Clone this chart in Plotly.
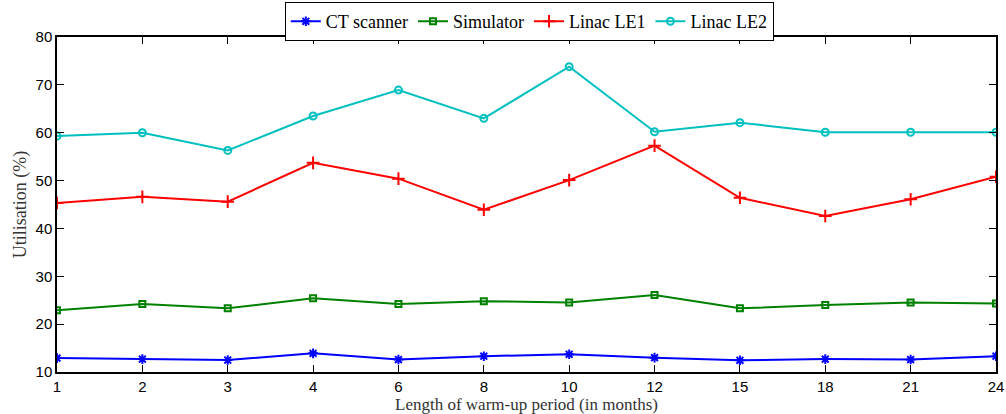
import plotly.graph_objects as go

# Warm-up period lengths (months), plotted as evenly spaced categories
months = ["1", "2", "3", "4", "6", "8", "10", "12", "15", "18", "21", "24"]

# Utilisation (%) per resource
ct_scanner = [12.9, 12.7, 12.5, 13.9, 12.6, 13.3, 13.7, 13.0, 12.45, 12.7, 12.6, 13.3]
simulator = [22.9, 24.2, 23.3, 25.4, 24.2, 24.8, 24.5, 26.1, 23.3, 24.0, 24.5, 24.3]
linac_le1 = [45.3, 46.6, 45.6, 53.7, 50.4, 43.9, 50.1, 57.3, 46.4, 42.6, 46.1, 50.8]
linac_le2 = [59.3, 60.0, 56.3, 63.5, 68.9, 63.0, 73.8, 60.2, 62.1, 60.1, 60.1, 60.1]

series = [
    ("CT scanner", ct_scanner, "#0000ff", "asterisk-open", 8),
    ("Simulator", simulator, "#008000", "square-open", 6),
    ("Linac LE1", linac_le1, "#ff0000", "cross-thin-open", 9),
    ("Linac LE2", linac_le2, "#00bfbf", "circle-open", 7),
]

fig = go.Figure()
for name, vals, color, symbol, size in series:
    fig.add_trace(go.Scatter(
        x=months, y=vals, name=name, mode="lines+markers",
        line=dict(color=color, width=2),
        marker=dict(symbol=symbol, size=size, color=color,
                    line=dict(color=color, width=2)),
    ))

serif = "Liberation Serif, DejaVu Serif, serif"

axis_common = dict(
    showline=True, linecolor="black", linewidth=1.5, mirror="ticks",
    ticks="inside", ticklen=7, tickcolor="black", tickwidth=1,
    showgrid=False, zeroline=False,
    tickfont=dict(family="Liberation Sans, Arial, sans-serif", size=15, color="black"),
)

fig.update_layout(
    width=1006, height=414,
    margin=dict(l=57, r=10, t=37, b=42, autoexpand=False),
    paper_bgcolor="white", plot_bgcolor="white",
    showlegend=True,
    legend=dict(
        orientation="h", x=0.503, xanchor="center",
        yref="container", y=0.995, yanchor="top",
        bordercolor="black", borderwidth=1, bgcolor="white",
        font=dict(family=serif, size=18, color="black"),
        itemwidth=30, tracegroupgap=0,
    ),
    xaxis=dict(type="category", range=[0, 11], **axis_common),
    yaxis=dict(
        range=[10, 80], dtick=10, **axis_common,
        title=dict(text="Utilisation (%)", standoff=4,
                   font=dict(family=serif, size=18, color="#333333")),
    ),
)

# x-axis title placed just under the tick labels
fig.add_annotation(
    text="Length of warm-up period (in months)",
    xref="paper", x=0.5, yref="paper", y=0, yanchor="middle", yshift=-32,
    showarrow=False, borderpad=0,
    font=dict(family=serif, size=17, color="#333333"),
)

fig.write_html("out.html")
